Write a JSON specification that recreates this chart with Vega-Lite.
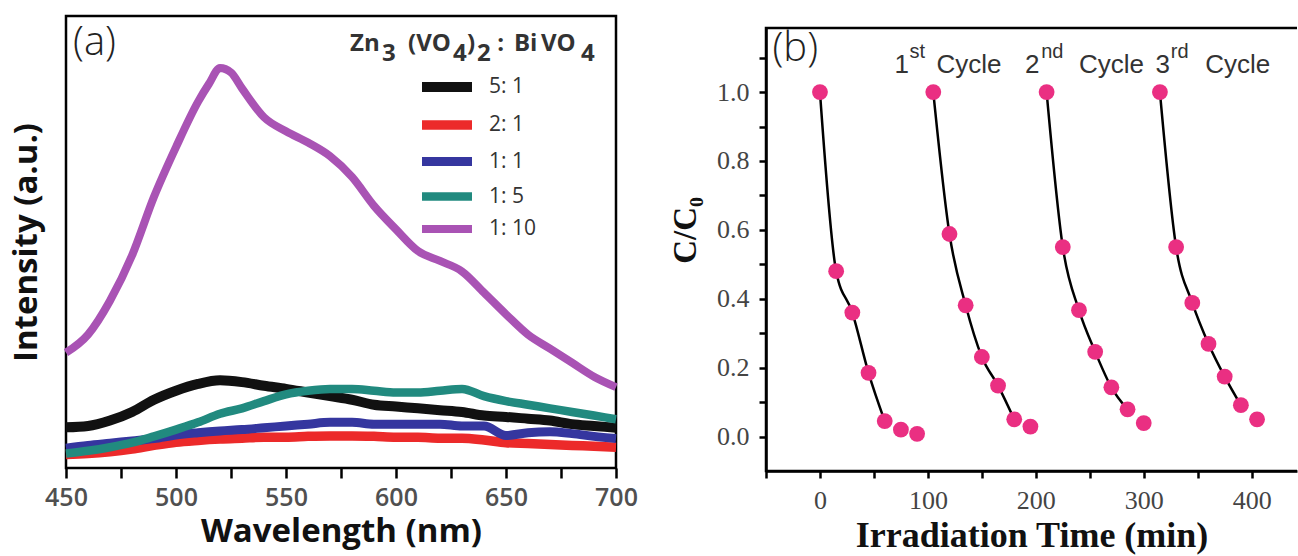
{
  "$schema": "https://vega.github.io/schema/vega-lite/v6.json",
  "padding": {"left": 8, "top": 14, "right": 0, "bottom": 0},
  "spacing": 150,
  "bounds": "flush",
  "background": "white",
  "config": {"axis": {"grid": false}, "view": {"stroke": null}},
  "datasets": {
    "pl": [
      {"ratio": "5: 1", "wavelength": 450, "intensity": 9.0},
      {"ratio": "5: 1", "wavelength": 460, "intensity": 9.3},
      {"ratio": "5: 1", "wavelength": 470, "intensity": 10.5},
      {"ratio": "5: 1", "wavelength": 480, "intensity": 12.4},
      {"ratio": "5: 1", "wavelength": 490, "intensity": 15.1},
      {"ratio": "5: 1", "wavelength": 500, "intensity": 17.1},
      {"ratio": "5: 1", "wavelength": 510, "intensity": 18.6},
      {"ratio": "5: 1", "wavelength": 520, "intensity": 19.4},
      {"ratio": "5: 1", "wavelength": 530, "intensity": 19.0},
      {"ratio": "5: 1", "wavelength": 540, "intensity": 18.2},
      {"ratio": "5: 1", "wavelength": 550, "intensity": 17.5},
      {"ratio": "5: 1", "wavelength": 560, "intensity": 16.7},
      {"ratio": "5: 1", "wavelength": 570, "intensity": 15.9},
      {"ratio": "5: 1", "wavelength": 580, "intensity": 15.1},
      {"ratio": "5: 1", "wavelength": 590, "intensity": 14.0},
      {"ratio": "5: 1", "wavelength": 600, "intensity": 13.6},
      {"ratio": "5: 1", "wavelength": 610, "intensity": 13.2},
      {"ratio": "5: 1", "wavelength": 620, "intensity": 12.8},
      {"ratio": "5: 1", "wavelength": 630, "intensity": 12.4},
      {"ratio": "5: 1", "wavelength": 640, "intensity": 11.6},
      {"ratio": "5: 1", "wavelength": 650, "intensity": 11.3},
      {"ratio": "5: 1", "wavelength": 660, "intensity": 10.9},
      {"ratio": "5: 1", "wavelength": 670, "intensity": 10.5},
      {"ratio": "5: 1", "wavelength": 680, "intensity": 9.7},
      {"ratio": "5: 1", "wavelength": 690, "intensity": 9.3},
      {"ratio": "5: 1", "wavelength": 700, "intensity": 8.9},
      {"ratio": "2: 1", "wavelength": 450, "intensity": 3.0},
      {"ratio": "2: 1", "wavelength": 460, "intensity": 3.2},
      {"ratio": "2: 1", "wavelength": 470, "intensity": 3.6},
      {"ratio": "2: 1", "wavelength": 480, "intensity": 4.2},
      {"ratio": "2: 1", "wavelength": 490, "intensity": 5.0},
      {"ratio": "2: 1", "wavelength": 500, "intensity": 5.7},
      {"ratio": "2: 1", "wavelength": 510, "intensity": 6.1},
      {"ratio": "2: 1", "wavelength": 520, "intensity": 6.4},
      {"ratio": "2: 1", "wavelength": 530, "intensity": 6.6},
      {"ratio": "2: 1", "wavelength": 540, "intensity": 6.8},
      {"ratio": "2: 1", "wavelength": 550, "intensity": 6.8},
      {"ratio": "2: 1", "wavelength": 560, "intensity": 7.0},
      {"ratio": "2: 1", "wavelength": 570, "intensity": 7.1},
      {"ratio": "2: 1", "wavelength": 580, "intensity": 7.1},
      {"ratio": "2: 1", "wavelength": 590, "intensity": 7.0},
      {"ratio": "2: 1", "wavelength": 600, "intensity": 6.8},
      {"ratio": "2: 1", "wavelength": 610, "intensity": 6.8},
      {"ratio": "2: 1", "wavelength": 620, "intensity": 6.6},
      {"ratio": "2: 1", "wavelength": 630, "intensity": 6.6},
      {"ratio": "2: 1", "wavelength": 640, "intensity": 6.2},
      {"ratio": "2: 1", "wavelength": 650, "intensity": 5.6},
      {"ratio": "2: 1", "wavelength": 660, "intensity": 5.4},
      {"ratio": "2: 1", "wavelength": 670, "intensity": 5.2},
      {"ratio": "2: 1", "wavelength": 680, "intensity": 5.0},
      {"ratio": "2: 1", "wavelength": 690, "intensity": 4.8},
      {"ratio": "2: 1", "wavelength": 700, "intensity": 4.6},
      {"ratio": "1: 1", "wavelength": 450, "intensity": 4.4},
      {"ratio": "1: 1", "wavelength": 460, "intensity": 5.0},
      {"ratio": "1: 1", "wavelength": 470, "intensity": 5.5},
      {"ratio": "1: 1", "wavelength": 480, "intensity": 6.0},
      {"ratio": "1: 1", "wavelength": 490, "intensity": 6.5},
      {"ratio": "1: 1", "wavelength": 500, "intensity": 7.3},
      {"ratio": "1: 1", "wavelength": 510, "intensity": 7.8},
      {"ratio": "1: 1", "wavelength": 520, "intensity": 8.2},
      {"ratio": "1: 1", "wavelength": 530, "intensity": 8.5},
      {"ratio": "1: 1", "wavelength": 540, "intensity": 8.9},
      {"ratio": "1: 1", "wavelength": 550, "intensity": 9.3},
      {"ratio": "1: 1", "wavelength": 560, "intensity": 9.7},
      {"ratio": "1: 1", "wavelength": 570, "intensity": 10.1},
      {"ratio": "1: 1", "wavelength": 580, "intensity": 10.1},
      {"ratio": "1: 1", "wavelength": 590, "intensity": 9.7},
      {"ratio": "1: 1", "wavelength": 600, "intensity": 9.7},
      {"ratio": "1: 1", "wavelength": 610, "intensity": 9.7},
      {"ratio": "1: 1", "wavelength": 620, "intensity": 9.7},
      {"ratio": "1: 1", "wavelength": 630, "intensity": 9.3},
      {"ratio": "1: 1", "wavelength": 640, "intensity": 9.3},
      {"ratio": "1: 1", "wavelength": 650, "intensity": 7.2},
      {"ratio": "1: 1", "wavelength": 660, "intensity": 7.8},
      {"ratio": "1: 1", "wavelength": 670, "intensity": 8.0},
      {"ratio": "1: 1", "wavelength": 680, "intensity": 7.6},
      {"ratio": "1: 1", "wavelength": 690, "intensity": 7.0},
      {"ratio": "1: 1", "wavelength": 700, "intensity": 6.5},
      {"ratio": "1: 5", "wavelength": 450, "intensity": 3.2},
      {"ratio": "1: 5", "wavelength": 460, "intensity": 3.8},
      {"ratio": "1: 5", "wavelength": 470, "intensity": 4.6},
      {"ratio": "1: 5", "wavelength": 480, "intensity": 5.6},
      {"ratio": "1: 5", "wavelength": 490, "intensity": 7.0},
      {"ratio": "1: 5", "wavelength": 500, "intensity": 8.5},
      {"ratio": "1: 5", "wavelength": 510, "intensity": 10.1},
      {"ratio": "1: 5", "wavelength": 520, "intensity": 12.0},
      {"ratio": "1: 5", "wavelength": 530, "intensity": 13.2},
      {"ratio": "1: 5", "wavelength": 540, "intensity": 14.8},
      {"ratio": "1: 5", "wavelength": 550, "intensity": 16.3},
      {"ratio": "1: 5", "wavelength": 560, "intensity": 17.1},
      {"ratio": "1: 5", "wavelength": 570, "intensity": 17.5},
      {"ratio": "1: 5", "wavelength": 580, "intensity": 17.5},
      {"ratio": "1: 5", "wavelength": 590, "intensity": 17.1},
      {"ratio": "1: 5", "wavelength": 600, "intensity": 16.7},
      {"ratio": "1: 5", "wavelength": 610, "intensity": 16.7},
      {"ratio": "1: 5", "wavelength": 620, "intensity": 17.1},
      {"ratio": "1: 5", "wavelength": 630, "intensity": 17.5},
      {"ratio": "1: 5", "wavelength": 640, "intensity": 15.9},
      {"ratio": "1: 5", "wavelength": 650, "intensity": 14.8},
      {"ratio": "1: 5", "wavelength": 660, "intensity": 14.0},
      {"ratio": "1: 5", "wavelength": 670, "intensity": 13.2},
      {"ratio": "1: 5", "wavelength": 680, "intensity": 12.4},
      {"ratio": "1: 5", "wavelength": 690, "intensity": 11.6},
      {"ratio": "1: 5", "wavelength": 700, "intensity": 10.8},
      {"ratio": "1: 10", "wavelength": 450, "intensity": 25.5},
      {"ratio": "1: 10", "wavelength": 460, "intensity": 29.5},
      {"ratio": "1: 10", "wavelength": 470, "intensity": 37.0},
      {"ratio": "1: 10", "wavelength": 480, "intensity": 47.0},
      {"ratio": "1: 10", "wavelength": 490, "intensity": 60.0},
      {"ratio": "1: 10", "wavelength": 500, "intensity": 71.0},
      {"ratio": "1: 10", "wavelength": 510, "intensity": 81.0},
      {"ratio": "1: 10", "wavelength": 515, "intensity": 85.0},
      {"ratio": "1: 10", "wavelength": 520, "intensity": 88.5},
      {"ratio": "1: 10", "wavelength": 525, "intensity": 87.5},
      {"ratio": "1: 10", "wavelength": 530, "intensity": 84.0},
      {"ratio": "1: 10", "wavelength": 540, "intensity": 77.6},
      {"ratio": "1: 10", "wavelength": 550, "intensity": 74.5},
      {"ratio": "1: 10", "wavelength": 560, "intensity": 72.0},
      {"ratio": "1: 10", "wavelength": 570, "intensity": 69.0},
      {"ratio": "1: 10", "wavelength": 580, "intensity": 64.4},
      {"ratio": "1: 10", "wavelength": 590, "intensity": 58.0},
      {"ratio": "1: 10", "wavelength": 600, "intensity": 52.8},
      {"ratio": "1: 10", "wavelength": 610, "intensity": 48.0},
      {"ratio": "1: 10", "wavelength": 620, "intensity": 45.8},
      {"ratio": "1: 10", "wavelength": 630, "intensity": 43.5},
      {"ratio": "1: 10", "wavelength": 640, "intensity": 38.8},
      {"ratio": "1: 10", "wavelength": 650, "intensity": 34.0},
      {"ratio": "1: 10", "wavelength": 660, "intensity": 29.5},
      {"ratio": "1: 10", "wavelength": 670, "intensity": 26.4},
      {"ratio": "1: 10", "wavelength": 680, "intensity": 23.3},
      {"ratio": "1: 10", "wavelength": 690, "intensity": 20.2},
      {"ratio": "1: 10", "wavelength": 700, "intensity": 17.9}
    ],
    "deg": [
      {"cycle": "A", "time": 0, "c": 1.0, "fit": true},
      {"cycle": "A", "time": 15, "c": 0.48, "fit": true},
      {"cycle": "A", "time": 30, "c": 0.36, "fit": true},
      {"cycle": "A", "time": 45, "c": 0.185, "fit": true},
      {"cycle": "A", "time": 60, "c": 0.045, "fit": true},
      {"cycle": "A", "time": 75, "c": 0.02, "fit": false},
      {"cycle": "A", "time": 90, "c": 0.008, "fit": false},
      {"cycle": "B", "time": 105, "c": 1.0, "fit": true},
      {"cycle": "B", "time": 120, "c": 0.588, "fit": true},
      {"cycle": "B", "time": 135, "c": 0.381, "fit": true},
      {"cycle": "B", "time": 150, "c": 0.231, "fit": true},
      {"cycle": "B", "time": 165, "c": 0.148, "fit": true},
      {"cycle": "B", "time": 180, "c": 0.05, "fit": true},
      {"cycle": "B", "time": 195, "c": 0.029, "fit": false},
      {"cycle": "C", "time": 210, "c": 1.0, "fit": true},
      {"cycle": "C", "time": 225, "c": 0.55, "fit": true},
      {"cycle": "C", "time": 240, "c": 0.367, "fit": true},
      {"cycle": "C", "time": 255, "c": 0.246, "fit": true},
      {"cycle": "C", "time": 270, "c": 0.143, "fit": true},
      {"cycle": "C", "time": 285, "c": 0.079, "fit": true},
      {"cycle": "C", "time": 300, "c": 0.039, "fit": false},
      {"cycle": "D", "time": 315, "c": 1.0, "fit": true},
      {"cycle": "D", "time": 330, "c": 0.55, "fit": true},
      {"cycle": "D", "time": 345, "c": 0.388, "fit": true},
      {"cycle": "D", "time": 360, "c": 0.269, "fit": true},
      {"cycle": "D", "time": 375, "c": 0.174, "fit": true},
      {"cycle": "D", "time": 390, "c": 0.091, "fit": true},
      {"cycle": "D", "time": 405, "c": 0.05, "fit": false}
    ],
    "cyc": [
      {"time": 69, "c": 1.054, "text": "1", "part": "main"},
      {"time": 83, "c": 1.098, "text": "st", "part": "sup"},
      {"time": 108, "c": 1.054, "text": "Cycle", "part": "main"},
      {"time": 190, "c": 1.054, "text": "2", "part": "main"},
      {"time": 205, "c": 1.098, "text": "nd", "part": "sup"},
      {"time": 240, "c": 1.054, "text": "Cycle", "part": "main"},
      {"time": 311, "c": 1.054, "text": "3", "part": "main"},
      {"time": 325, "c": 1.098, "text": "rd", "part": "sup"},
      {"time": 357, "c": 1.054, "text": "Cycle", "part": "main"},
      {"time": -44, "c": 1.183, "text": "(b)", "part": "panel"}
    ],
    "plabel": [
      {"wavelength": 453.2, "intensity": 98.5, "text": "(a)", "part": "panel"},
      {"wavelength": 579.1, "intensity": 92.26, "text": "Zn", "part": "main"},
      {"wavelength": 593.6, "intensity": 90.04, "text": "3", "part": "main"},
      {"wavelength": 605.5, "intensity": 92.26, "text": "(VO", "part": "main"},
      {"wavelength": 625.9, "intensity": 90.04, "text": "4", "part": "main"},
      {"wavelength": 632.3, "intensity": 92.26, "text": ")", "part": "main"},
      {"wavelength": 636.8, "intensity": 90.04, "text": "2", "part": "main"},
      {"wavelength": 646.0, "intensity": 92.26, "text": ":", "part": "main"},
      {"wavelength": 653.6, "intensity": 92.26, "text": "Bi", "part": "main"},
      {"wavelength": 665.9, "intensity": 92.26, "text": "VO", "part": "main"},
      {"wavelength": 684.1, "intensity": 90.04, "text": "4", "part": "main"}
    ]
  },
  "hconcat": [
    {
      "width": 550,
      "height": 452,
      "view": {"stroke": "black", "strokeWidth": 2.5},
      "layer": [
        {
          "data": {"name": "pl"},
          "mark": {"type": "line", "interpolate": "monotone", "strokeJoin": "round", "strokeCap": "butt"},
          "encoding": {
            "x": {
              "field": "wavelength", "type": "quantitative",
              "scale": {"domain": [450, 700], "nice": false, "zero": false},
              "axis": {
                "title": "Wavelength (nm)",
                "values": [450, 475, 500, 525, 550, 575, 600, 625, 650, 675, 700],
                "labelExpr": "datum.value % 50 === 0 ? datum.label : ''",
                "domain": false,
                "tickSize": 10, "tickWidth": 2.5, "tickColor": "black",
                "labelFont": "Open Sans", "labelFontSize": 25, "labelColor": "#505050", "labelFontWeight": 600,
                "labelPadding": 7, "labelFlush": false,
                "titleFont": "Open Sans", "titleFontSize": 33, "titleFontWeight": "bold", "titleColor": "#111", "titlePadding": 5
              }
            },
            "y": {
              "field": "intensity", "type": "quantitative",
              "scale": {"domain": [0, 100], "nice": false},
              "axis": {
                "title": "Intensity (a.u.)", "labels": false, "ticks": false, "domain": false,
                "titleFont": "Open Sans", "titleFontSize": 33, "titleFontWeight": "bold", "titleColor": "#111", "titlePadding": 23
              }
            },
            "color": {
              "field": "ratio", "type": "nominal",
              "sort": ["5: 1", "2: 1", "1: 1", "1: 5", "1: 10"],
              "scale": {"domain": ["5: 1", "2: 1", "1: 1", "1: 5", "1: 10"], "range": ["#111111", "#ec2a2a", "#35369f", "#218a7f", "#a953b4"]},
              "legend": {
                "title": null,
                "orient": "none", "legendX": 366, "legendY": 56,
                "padding": 0,
                "labelFont": "Open Sans", "labelFontSize": 21, "labelColor": "#333",
                "symbolType": "M-2.5,0H2.5", "symbolSize": 400, "symbolStrokeWidth": 3,
                "labelOffset": 27, "rowPadding": -1
              }
            },
            "strokeWidth": {
              "field": "ratio", "type": "nominal",
              "scale": {"domain": ["5: 1", "2: 1", "1: 1", "1: 5", "1: 10"], "range": [10, 8, 9, 9, 16]},
              "legend": null
            }
          }
        },
        {
          "data": {"name": "plabel"},
          "transform": [{"filter": "datum.part === 'panel'"}],
          "mark": {"type": "text", "align": "left", "baseline": "top", "font": "Open Sans", "fontSize": 40, "fontWeight": 300, "color": "#222"},
          "encoding": {
            "x": {"field": "wavelength", "type": "quantitative"},
            "y": {"field": "intensity", "type": "quantitative"},
            "text": {"field": "text"}
          }
        },
        {
          "data": {"name": "plabel"},
          "transform": [{"filter": "datum.part === 'main'"}],
          "mark": {"type": "text", "align": "left", "baseline": "alphabetic", "font": "Open Sans", "fontSize": 24, "fontWeight": "bold", "color": "#333"},
          "encoding": {
            "x": {"field": "wavelength", "type": "quantitative"},
            "y": {"field": "intensity", "type": "quantitative"},
            "text": {"field": "text"}
          }
        }
      ]
    },
    {
      "bounds": "flush",
      "spacing": 11,
      "vconcat": [
        {
          "width": 531,
          "height": 1,
          "data": {"values": []},
          "mark": {"type": "point", "opacity": 0},
          "encoding": {}
        },
        {
          "width": 531,
          "height": 443,
          "view": {"stroke": "black", "strokeWidth": 2.5, "strokeDash": [531, 443, 980]},
          "layer": [
            {
              "data": {"name": "deg"},
              "transform": [{"filter": "datum.fit"}],
              "mark": {"type": "line", "interpolate": "monotone", "color": "black", "strokeWidth": 2.5},
              "encoding": {
                "detail": {"field": "cycle"},
                "x": {
                  "field": "time", "type": "quantitative",
                  "scale": {"domain": [-50, 442], "nice": false, "zero": false},
                  "axis": {
                    "title": "Irradiation Time (min)",
                    "values": [-50, 0, 50, 100, 150, 200, 250, 300, 350, 400],
                    "labelExpr": "datum.value >= 0 && datum.value % 100 === 0 ? datum.label : ''",
                    "domainWidth": 2.5, "domainColor": "black",
                    "tickSize": 7, "tickWidth": 2.5, "tickColor": "black",
                    "labelFont": "Liberation Sans Narrow", "labelFontSize": 26, "labelColor": "#444",
                    "labelPadding": 9, "labelFlush": false,
                    "titleFont": "Liberation Serif", "titleFontSize": 36, "titleFontWeight": "bold", "titleColor": "#111", "titlePadding": 5
                  }
                },
                "y": {
                  "field": "c", "type": "quantitative",
                  "scale": {"domain": [-0.1, 1.186], "nice": false, "zero": false},
                  "axis": {
                    "title": "C/C₀",
                    "values": [0, 0.1, 0.2, 0.3, 0.4, 0.5, 0.6, 0.7, 0.8, 0.9, 1.0, 1.1],
                    "format": ".1f",
                    "labelExpr": "indexof(['0.0', '0.2', '0.4', '0.6', '0.8', '1.0'], datum.label) >= 0 ? datum.label : ''",
                    "labelOverlap": false,
                    "domainWidth": 2.5, "domainColor": "black",
                    "tickSize": 7, "tickWidth": 2.5, "tickColor": "black",
                    "labelFont": "Liberation Sans Narrow", "labelFontSize": 26, "labelColor": "#444",
                    "labelPadding": 10,
                    "titleFont": "Liberation Serif", "titleFontSize": 33, "titleFontWeight": "bold", "titleColor": "#111", "titlePadding": 14,
                    "titleY": 202
                  }
                }
              }
            },
            {
              "data": {"name": "deg"},
              "mark": {"type": "circle", "size": 250, "opacity": 1, "color": "#ea2f82"},
              "encoding": {
                "x": {"field": "time", "type": "quantitative"},
                "y": {"field": "c", "type": "quantitative"}
              }
            },
            {
              "data": {"name": "cyc"},
              "transform": [{"filter": "datum.part === 'main'"}],
              "mark": {"type": "text", "align": "left", "baseline": "alphabetic", "font": "Liberation Sans", "fontSize": 26, "color": "#333"},
              "encoding": {
                "x": {"field": "time", "type": "quantitative"},
                "y": {"field": "c", "type": "quantitative"},
                "text": {"field": "text"}
              }
            },
            {
              "data": {"name": "cyc"},
              "transform": [{"filter": "datum.part === 'sup'"}],
              "mark": {"type": "text", "align": "left", "baseline": "alphabetic", "font": "Liberation Sans", "fontSize": 20, "color": "#333"},
              "encoding": {
                "x": {"field": "time", "type": "quantitative"},
                "y": {"field": "c", "type": "quantitative"},
                "text": {"field": "text"}
              }
            },
            {
              "data": {"name": "cyc"},
              "transform": [{"filter": "datum.part === 'panel'"}],
              "mark": {"type": "text", "align": "left", "baseline": "top", "font": "Open Sans", "fontSize": 40, "fontWeight": 300, "color": "#222"},
              "encoding": {
                "x": {"field": "time", "type": "quantitative"},
                "y": {"field": "c", "type": "quantitative"},
                "text": {"field": "text"}
              }
            }
          ]
        }
      ]
    }
  ]
}
